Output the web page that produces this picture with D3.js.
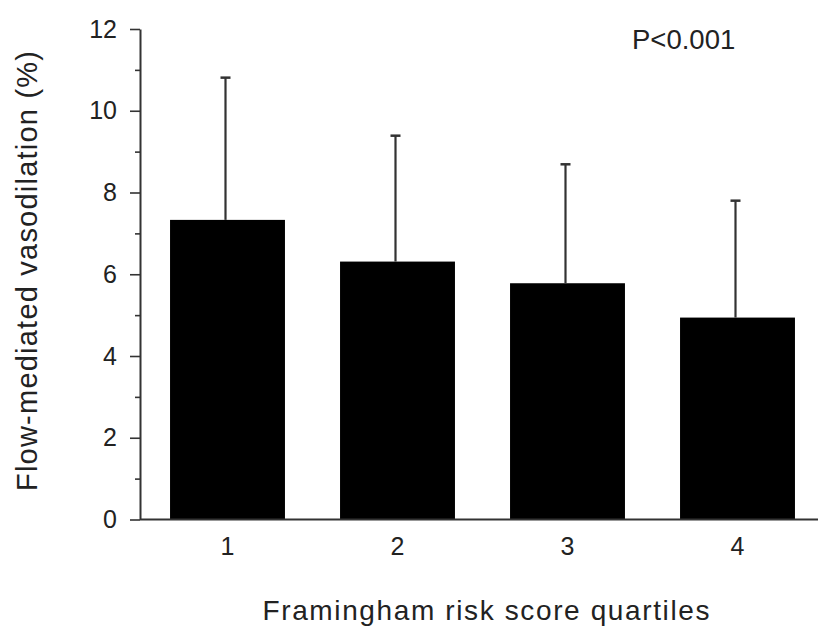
<!DOCTYPE html>
<html>
<head>
<meta charset="utf-8">
<script src="https://cdn.jsdelivr.net/npm/d3@7"></script>
<style>
  body { margin: 0; background: #fff; }
  svg text { font-family: "Liberation Sans", Arial, sans-serif; fill: #222; }
</style>
</head>
<body>
<div id="my_dataviz"></div>
<script>
// data
var quartiles = ["1", "2", "3", "4"];
var fmdMean = [7.33, 6.31, 5.78, 4.94];
var fmdSD = [3.48, 3.08, 2.91, 2.86];
var yTicks = [0, 2, 4, 6, 8, 10, 12];
var yMinorTicks = [1, 3, 5, 7, 9, 11];

var data = quartiles.map(function(q, i) {
  return { q: q, mean: fmdMean[i], sd: fmdSD[i] };
});

var W = 823, H = 629;
var svg = d3.select("#my_dataviz")
  .append("svg")
  .attr("width", W)
  .attr("height", H);

var axisX = 140, axisRight = 818;

// scales
var x = d3.scaleBand()
  .domain(quartiles)
  .range([142.5, 822.5])
  .paddingInner(0.324)
  .paddingOuter(0.162);

var y = d3.scaleLinear()
  .domain([0, 12])
  .range([519.5, 29]);

// bars
svg.selectAll(".bar")
  .data(data)
  .enter()
  .append("rect")
  .attr("class", "bar")
  .attr("x", function(d) { return x(d.q); })
  .attr("y", function(d) { return y(d.mean); })
  .attr("width", x.bandwidth())
  .attr("height", function(d) { return y(0) - y(d.mean); })
  .style("fill", "#000");

// error bars (upper only)
var err = svg.selectAll(".err")
  .data(data)
  .enter()
  .append("g")
  .attr("class", "err")
  .style("stroke", "#333");

err.append("line")
  .attr("x1", function(d) { return x(d.q) + x.bandwidth() / 2 - 2; })
  .attr("x2", function(d) { return x(d.q) + x.bandwidth() / 2 - 2; })
  .attr("y1", function(d) { return y(d.mean); })
  .attr("y2", function(d) { return y(d.mean + d.sd); })
  .style("stroke-width", 2.2);

err.append("line")
  .attr("x1", function(d) { return x(d.q) + x.bandwidth() / 2 - 7; })
  .attr("x2", function(d) { return x(d.q) + x.bandwidth() / 2 + 3; })
  .attr("y1", function(d) { return y(d.mean + d.sd); })
  .attr("y2", function(d) { return y(d.mean + d.sd); })
  .style("stroke-width", 2.5);

// y axis
var yAxis = svg.append("g")
  .attr("transform", "translate(" + axisX + ",0)")
  .call(d3.axisLeft(y).tickValues(yTicks).tickSize(10).tickSizeOuter(0).tickPadding(13));
yAxis.select(".domain").style("stroke", "#333").style("stroke-width", 2);
yAxis.selectAll(".tick line").style("stroke", "#333").style("stroke-width", 1.6);
yAxis.selectAll(".tick text").style("font-size", "25px").style("fill", "#222");

var yMinor = svg.append("g")
  .attr("transform", "translate(" + axisX + ",0)")
  .call(d3.axisLeft(y).tickValues(yMinorTicks).tickSize(5).tickFormat(""));
yMinor.select(".domain").remove();
yMinor.selectAll(".tick line").style("stroke", "#333").style("stroke-width", 1.6);

// x axis
var xAxis = svg.append("g")
  .attr("transform", "translate(0," + y(0) + ")")
  .call(d3.axisBottom(x).tickSize(0).tickPadding(18));
xAxis.select(".domain").remove();
xAxis.selectAll(".tick text").style("font-size", "25px").style("fill", "#222");

svg.append("line")
  .attr("x1", axisX)
  .attr("x2", axisRight)
  .attr("y1", y(0))
  .attr("y2", y(0))
  .style("stroke", "#333")
  .style("stroke-width", 2);

// titles
svg.append("text")
  .attr("x", 486)
  .attr("y", 619.5)
  .attr("text-anchor", "middle")
  .attr("textLength", 447)
  .attr("lengthAdjust", "spacing")
  .style("font-size", "28px")
  .text("Framingham risk score quartiles");

svg.append("text")
  .attr("transform", "translate(37,271) rotate(-90)")
  .attr("text-anchor", "middle")
  .attr("textLength", 440)
  .attr("lengthAdjust", "spacing")
  .style("font-size", "29px")
  .text("Flow-mediated vasodilation (%)");

svg.append("text")
  .attr("x", 632)
  .attr("y", 48.5)
  .style("font-size", "27.5px")
  .text("P<0.001");
</script>
</body>
</html>
